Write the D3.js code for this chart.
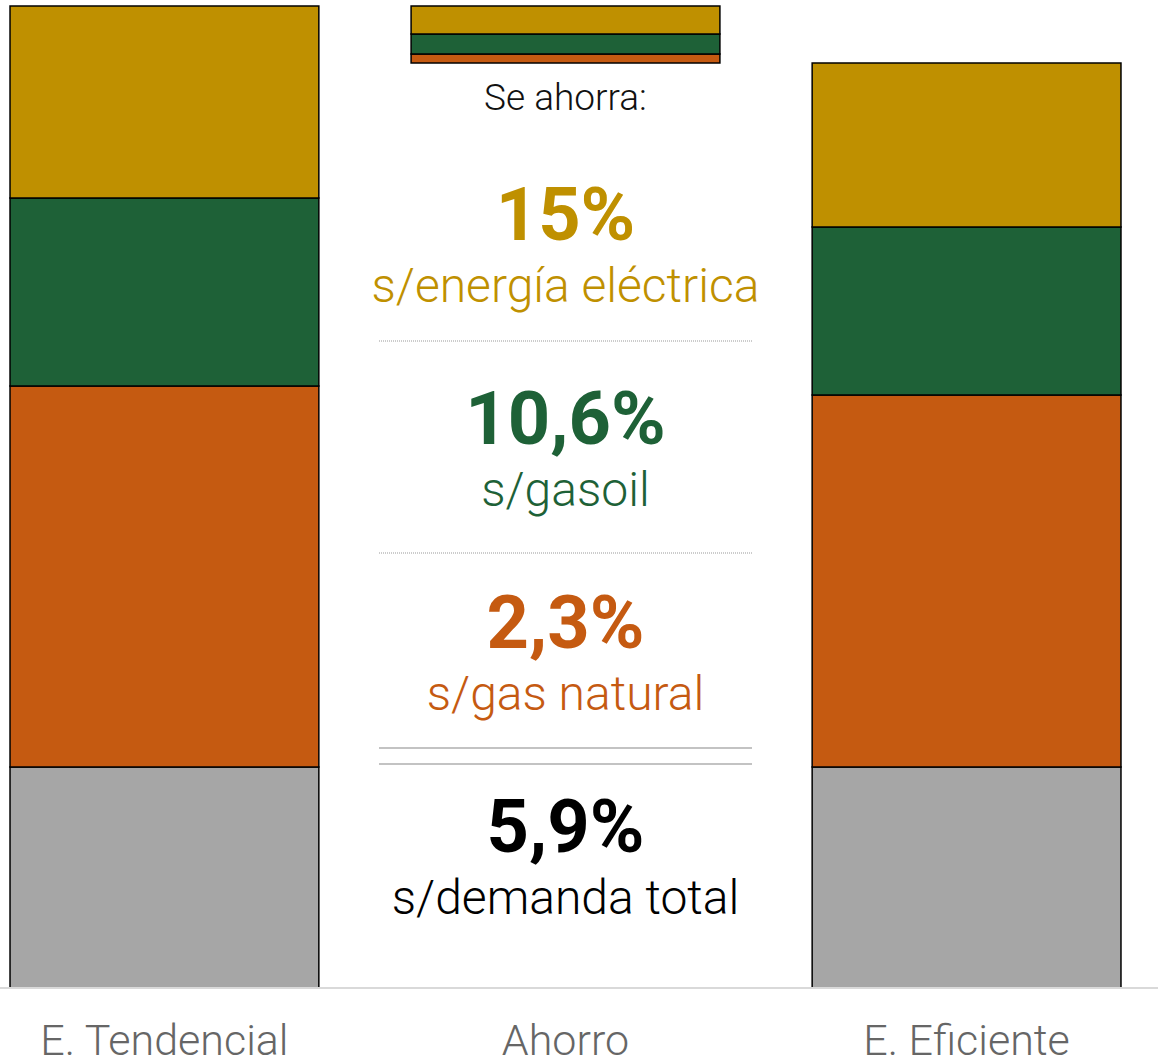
<!DOCTYPE html>
<html>
<head>
<meta charset="utf-8">
<script src="https://cdn.jsdelivr.net/npm/d3@7"></script>
<style>
  html, body { margin: 0; padding: 0; background: #fff; }
  svg { display: block; font-family: Roboto, "Noto Sans", sans-serif; }
</style>
</head>
<body>
<svg id="chart" width="1158" height="1062"></svg>
<script>
(function () {
    'use strict';

    // columns and stacked fuels (bottom to top)
    var categories = ['E. Tendencial', 'Ahorro', 'E. Eficiente'];
    var fuels = ['otros', 'gas natural', 'gasoil', 'energía eléctrica'];
    var colors = ['#a6a6a6', '#c55a11', '#1e6137', '#bf9000'];

    // demand per fuel in each scenario
    var tendencial = [221, 381, 188, 192];
    var eficiente = [221, 372, 168, 164];

    // savings labels shown in the middle column (top to bottom)
    var savingPct = ['15%', '10,6%', '2,3%', '5,9%'];
    var savingText = ['s/energía eléctrica', 's/gasoil', 's/gas natural', 's/demanda total'];
    var savingColor = ['#bf9000', '#1e6137', '#c55a11', '#000000'];

    var W = 1158, baseY = 988, topY = 6;

    var svg = d3.select('#chart');

    var x = d3.scaleBand()
        .domain(categories)
        .range([0, 1131])
        .paddingInner(0.23)
        .paddingOuter(0.025);

    var y = d3.scaleLinear()
        .domain([0, d3.sum(tendencial)])
        .range([baseY, topY]);

    function stack(vals) {
        var acc = 0;
        return vals.map(function (v, i) {
            var s = { y0: acc, y1: acc + v, color: colors[i] };
            acc += v;
            return s;
        });
    }

    // middle bar: what is saved, sitting on top of the efficient total
    var savings = [];
    var acc = d3.sum(eficiente);
    fuels.forEach(function (f, i) {
        var d = tendencial[i] - eficiente[i];
        if (d > 0) {
            savings.push({ y0: acc, y1: acc + d, color: colors[i] });
            acc += d;
        }
    });

    var columns = [
        { cat: categories[0], segs: stack(tendencial) },
        { cat: categories[1], segs: savings },
        { cat: categories[2], segs: stack(eficiente) }
    ];

    columns.forEach(function (col) {
        svg.append('g').selectAll('rect')
            .data(col.segs)
            .enter().append('rect')
            .attr('x', x(col.cat))
            .attr('width', x.bandwidth())
            .attr('y', function (d) { return y(d.y1); })
            .attr('height', function (d) { return y(d.y0) - y(d.y1); })
            .style('fill', function (d) { return d.color; })
            .style('stroke', '#000')
            .style('stroke-width', 1.5);
    });

    // baseline
    svg.append('line')
        .attr('x1', 0).attr('x2', W)
        .attr('y1', baseY).attr('y2', baseY)
        .style('stroke', '#d9d9d9')
        .style('stroke-width', 2);

    // category labels
    svg.append('g').selectAll('text')
        .data(categories)
        .enter().append('text')
        .attr('x', function (d) { return x(d) + x.bandwidth() / 2; })
        .attr('y', 1055)
        .attr('text-anchor', 'middle')
        .style('font-size', '43px')
        .style('font-weight', 300)
        .style('fill', '#666')
        .text(function (d) { return d; });

    // savings text block
    var cx = x(categories[1]) + x.bandwidth() / 2;
    var lx0 = 379, lx1 = 752;

    svg.append('text')
        .attr('x', cx).attr('y', 110)
        .attr('text-anchor', 'middle')
        .style('font-size', '37px')
        .style('font-weight', 300)
        .style('fill', '#111')
        .text('Se ahorra:');

    var block = svg.append('g').selectAll('g')
        .data(savingPct)
        .enter().append('g')
        .attr('transform', function (d, i) { return 'translate(0,' + (240 + i * 204) + ')'; });

    block.append('text')
        .attr('x', cx)
        .attr('text-anchor', 'middle')
        .style('font-size', '74px')
        .style('font-weight', 700)
        .style('fill', function (d, i) { return savingColor[i]; })
        .text(function (d) { return d; });

    block.append('text')
        .attr('x', cx)
        .attr('y', 62)
        .attr('text-anchor', 'middle')
        .style('font-size', '48px')
        .style('font-weight', 300)
        .style('fill', function (d, i) { return savingColor[i]; })
        .text(function (d, i) { return savingText[i]; });

    // separators
    [341, 553].forEach(function (ly) {
        svg.append('line')
            .attr('x1', lx0).attr('x2', lx1)
            .attr('y1', ly).attr('y2', ly)
            .style('stroke', '#999')
            .style('stroke-width', 1)
            .style('stroke-dasharray', '1,1');
    });
    [748, 764].forEach(function (ly) {
        svg.append('line')
            .attr('x1', lx0).attr('x2', lx1)
            .attr('y1', ly).attr('y2', ly)
            .style('stroke', '#888')
            .style('stroke-width', 1.2);
    });
})();
</script>
</body>
</html>
